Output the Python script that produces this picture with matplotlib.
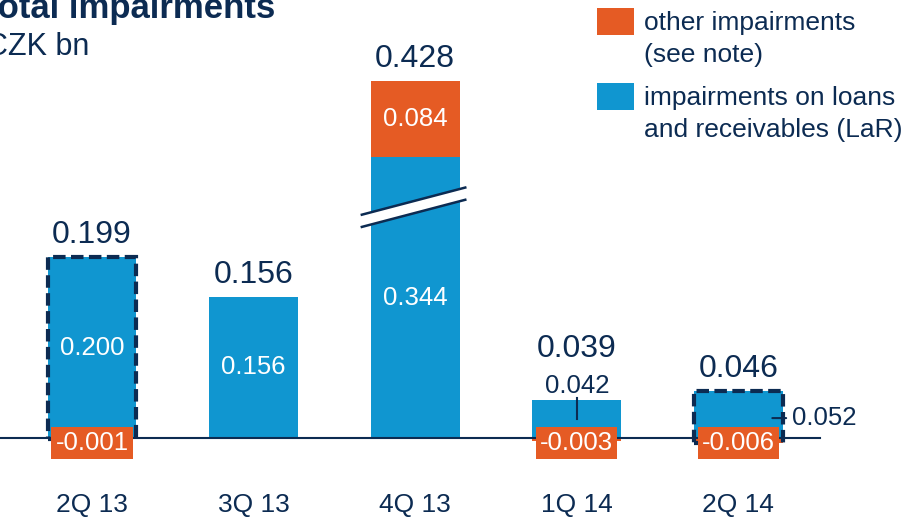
import matplotlib.pyplot as plt
from matplotlib.patches import Rectangle, Polygon

plt.rcParams['font.family'] = ['Liberation Sans', 'DejaVu Sans']

# data (CZK bn)
quarters = ['2Q 13', '3Q 13', '4Q 13', '1Q 14', '2Q 14']
lar = [0.200, 0.156, 0.344, 0.042, 0.052]       # impairments on loans and receivables
other = [-0.001, 0.0, 0.084, -0.003, -0.006]    # other impairments
total = [0.199, 0.156, 0.428, 0.039, 0.046]
highlight = [0, 4]

BLUE = '#1096d0'
ORANGE = '#e55b24'
NAVY = '#0c2b52'

# 4Q 13 blue bar is drawn with an axis break
brk_idx = 2
brk_cut = 0.0335
brk_y = 0.255

fig = plt.figure(figsize=(9.05, 5.17), dpi=100)
ax = fig.add_axes([0, 0, 1, 1])
ax.set_xlim(-0.569, 5.031)
ax.set_ylim(-0.0873, 0.484)
ax.axis('off')

w = 0.55
x = list(range(len(quarters)))
shown_lar = [v - brk_cut if i == brk_idx else v for i, v in enumerate(lar)]

ax.bar(x, shown_lar, width=w, color=BLUE, zorder=2)
for i in x:
    if other[i] > 0:
        ax.bar(i, other[i], bottom=shown_lar[i], width=w, color=ORANGE, zorder=2)
    elif other[i] < 0:
        ax.bar(i, other[i], width=w, color=ORANGE, zorder=2)

# dashed frame around highlighted quarters
for i in highlight:
    ax.bar(i, lar[i] - other[i], bottom=other[i], width=w, fill=False,
           edgecolor=NAVY, lw=3, ls=(0, (3, 1.3)), zorder=4)

# baseline
ax.plot([-0.569, 4.505], [0, 0], color=NAVY, lw=1.5, zorder=3)

# break marker on 4Q 13
bx0, bx1 = brk_idx - 0.33, brk_idx + 0.31
slope, gap = 0.030, 0.0135
ax.add_patch(Polygon([(bx0, brk_y - slope / 2 - gap / 2), (bx1, brk_y + slope / 2 - gap / 2),
                      (bx1, brk_y + slope / 2 + gap / 2), (bx0, brk_y - slope / 2 + gap / 2)],
                     closed=True, facecolor='white', edgecolor='none', zorder=5))
for s in (-gap / 2, gap / 2):
    ax.plot([bx0, bx1], [brk_y - slope / 2 + s, brk_y + slope / 2 + s],
            color=NAVY, lw=1.8, zorder=6)

# value labels
for i in x:
    top = shown_lar[i] + max(other[i], 0)
    if i == 3:
        continue
    ax.text(i, top + 0.0245, f'{total[i]:.3f}', ha='center', va='center',
            fontsize=23, color=NAVY, zorder=7)
    if i != 4:
        ax.text(i, shown_lar[i] / 2, f'{lar[i]:.3f}', ha='center', va='center',
                fontsize=18.5, color='white', zorder=7)
    if other[i] > 0:
        ax.text(i, shown_lar[i] + other[i] / 2, f'{other[i]:.3f}', ha='center',
                va='center', fontsize=18.5, color='white', zorder=7)

# small bars: labels outside with leader lines
ax.text(3, 0.0575, f'{lar[3]:.3f}', ha='center', va='center', fontsize=18.5,
        color=NAVY, zorder=7)
ax.plot([3, 3], [lar[3] / 2, 0.0445], color=NAVY, lw=1.5, zorder=7)
ax.text(3, 0.0575 + 0.0405, f'{total[3]:.3f}', ha='center', va='center',
        fontsize=23, color=NAVY, zorder=7)
ax.annotate(f'{lar[4]:.3f}', xy=(4.21, 0.022), xytext=(4.33, 0.022),
            ha='left', va='center', fontsize=18.5, color=NAVY, zorder=7,
            arrowprops=dict(arrowstyle='-', color=NAVY, lw=1.5, shrinkA=2, shrinkB=0))

# negative other impairments in orange boxes
for i in x:
    if other[i] < 0:
        ax.text(i, -0.0055, f'{other[i]:.3f}', ha='center', va='center',
                fontsize=18.5, color='white', zorder=8,
                bbox=dict(boxstyle='square,pad=0.16', facecolor=ORANGE, edgecolor='none'))

# category labels
for i, q in enumerate(quarters):
    ax.text(i, -0.0745, q, ha='center', va='center', fontsize=19, color=NAVY)

# title
fig.text(-0.023, 1 - 18 / 517, 'Total impairments', fontsize=25, fontweight='bold',
         color=NAVY, ha='left', va='baseline')
fig.text(-0.016, 1 - 55 / 517, 'CZK bn', fontsize=22, color=NAVY, ha='left', va='baseline')

# legend
legend_items = [(ORANGE, 'other impairments\n(see note)'),
                (BLUE, 'impairments on loans\nand receivables (LaR)')]
for k, (c, lbl) in enumerate(legend_items):
    y_top = 8 + k * 75
    fig.patches.append(Rectangle((597 / 905, 1 - (y_top + 27) / 517), 37 / 905, 27 / 517,
                                 transform=fig.transFigure, facecolor=c, edgecolor='none'))
    fig.text(644 / 905, 1 - (y_top + 3) / 517, lbl, fontsize=19, color=NAVY,
             ha='left', va='top', linespacing=1.4)

fig.savefig('out.png', dpi=100)
